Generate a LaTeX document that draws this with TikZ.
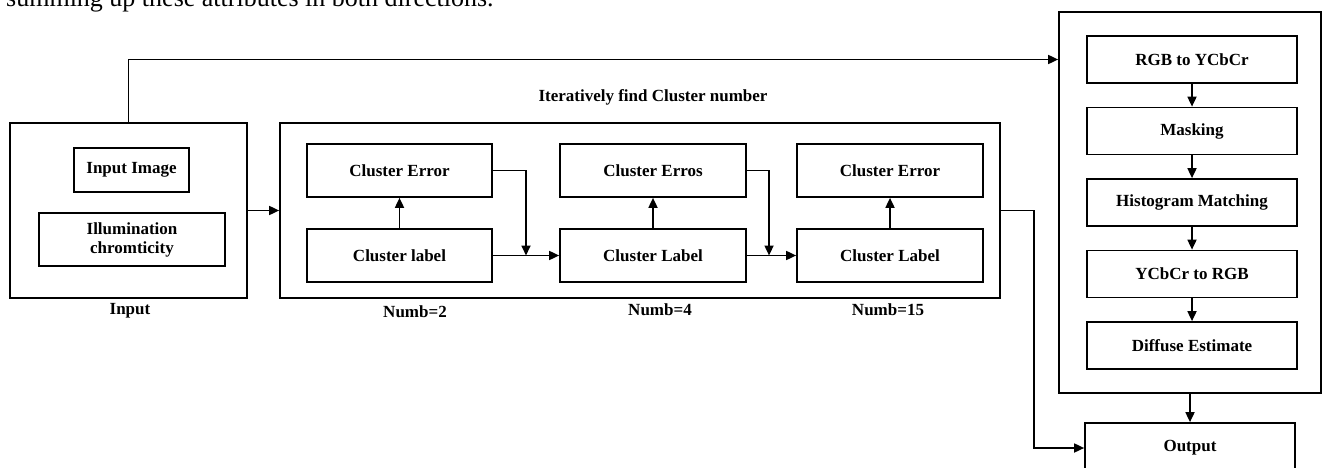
\documentclass[tikz,border=0pt]{standalone}
\usepackage{fontspec}
\setmainfont{Liberation Serif}
\usetikzlibrary{arrows.meta,calc}
\tikzset{
  box/.style={draw, line width=1.7pt, rectangle, inner sep=0pt, align=center,
              font=\bfseries\fontsize{17}{19}\selectfont},
  panel/.style={draw, line width=1.7pt, rectangle, inner sep=0pt},
  arr/.style={line width=1.7pt, -{Triangle[length=10pt,width=9pt]}},
  lbl/.style={font=\bfseries\fontsize{17}{19}\selectfont, inner sep=0pt}
}
\begin{document}
\begin{tikzpicture}[x=1pt,y=-1pt]
\useasboundingbox (0,0) rectangle (1325,468);
\clip (0,0) rectangle (1325,468);

% running text line above the figure
\node[anchor=base west, inner sep=0pt, font=\fontsize{26}{30}\selectfont] (para) at (6,6.7)
  {summing up these attributes in both directions.};

% input block
\node[panel, minimum width=237pt, minimum height=175pt] (inBox) at (128.5,210.5) {};
\node[box, minimum width=115pt, minimum height=44pt] (img) at (131.5,170) {Input Image};
\node[box, minimum width=186pt, minimum height=53pt] (ill) at (132,239.5) {Illumination\\chromticity};
\node[lbl] (inCap) at (130,311) {Input};

% iterative clustering block
\node[panel, minimum width=720pt, minimum height=175pt] (clBox) at (640,210.5) {};
\node[lbl] (clCap) at (653,97) {Iteratively find Cluster number};
\node[box, minimum width=185pt, minimum height=53pt] (e1) at (399.5,170.5) {Cluster Error};
\node[box, minimum width=185pt, minimum height=53pt] (l1) at (399.5,255.5) {Cluster label};
\node[box, minimum width=186pt, minimum height=53pt] (e2) at (653,170.5) {Cluster Erros};
\node[box, minimum width=186pt, minimum height=53pt] (l2) at (653,255.5) {Cluster Label};
\node[box, minimum width=186pt, minimum height=53pt] (e3) at (890,170.5) {Cluster Error};
\node[box, minimum width=186pt, minimum height=53pt] (l3) at (890,255.5) {Cluster Label};
\node[lbl] (n2) at (415,312) {Numb=2};
\node[lbl] (n4) at (660,310) {Numb=4};
\node[lbl] (n15) at (888,310) {Numb=15};

% colour processing block
\node[panel, minimum width=262pt, minimum height=381pt] (rBox) at (1190,202.5) {};
\node[box, minimum width=210pt, minimum height=47pt] (r1) at (1192,59.5) {RGB to YCbCr};
\node[box, minimum width=210pt, minimum height=47pt] (r2) at (1192,131) {Masking};
\node[box, minimum width=210pt, minimum height=47pt] (r3) at (1192,202.5) {Histogram Matching};
\node[box, minimum width=210pt, minimum height=47pt] (r4) at (1192,274) {YCbCr to RGB};
\node[box, minimum width=210pt, minimum height=47pt] (r5) at (1192,345.5) {Diffuse Estimate};
\node[box, minimum width=210pt, minimum height=50pt] (out) at (1190,448) {Output};

% connectors
\draw[arr] (inBox.north) |- (r1.west -| rBox.west);
\draw[arr] (inBox.east) -- (clBox.west);
\draw[arr] (l1.north) -- (e1.south);
\draw[arr] (l2.north) -- (e2.south);
\draw[arr] (l3.north) -- (e3.south);
\draw[arr] (l1.east) -- (l2.west);
\draw[arr] (l2.east) -- (l3.west);
\coordinate (j1) at ($(l1.east)!0.5!(l2.west)$);
\coordinate (j2) at ($(l2.east)!0.45!(l3.west)$);
\draw[arr] (e1.east) -| (j1);
\draw[arr] (e2.east) -| (j2);
\draw[arr] (r1) -- (r2);
\draw[arr] (r2) -- (r3);
\draw[arr] (r3) -- (r4);
\draw[arr] (r4) -- (r5);
\draw[arr] (rBox.south) -- (rBox.south |- out.north);
\coordinate (bend) at ($(clBox.east)+(33,0)$);
\draw[arr] (clBox.east) -- (bend) |- (out.west);
\end{tikzpicture}
\end{document}
